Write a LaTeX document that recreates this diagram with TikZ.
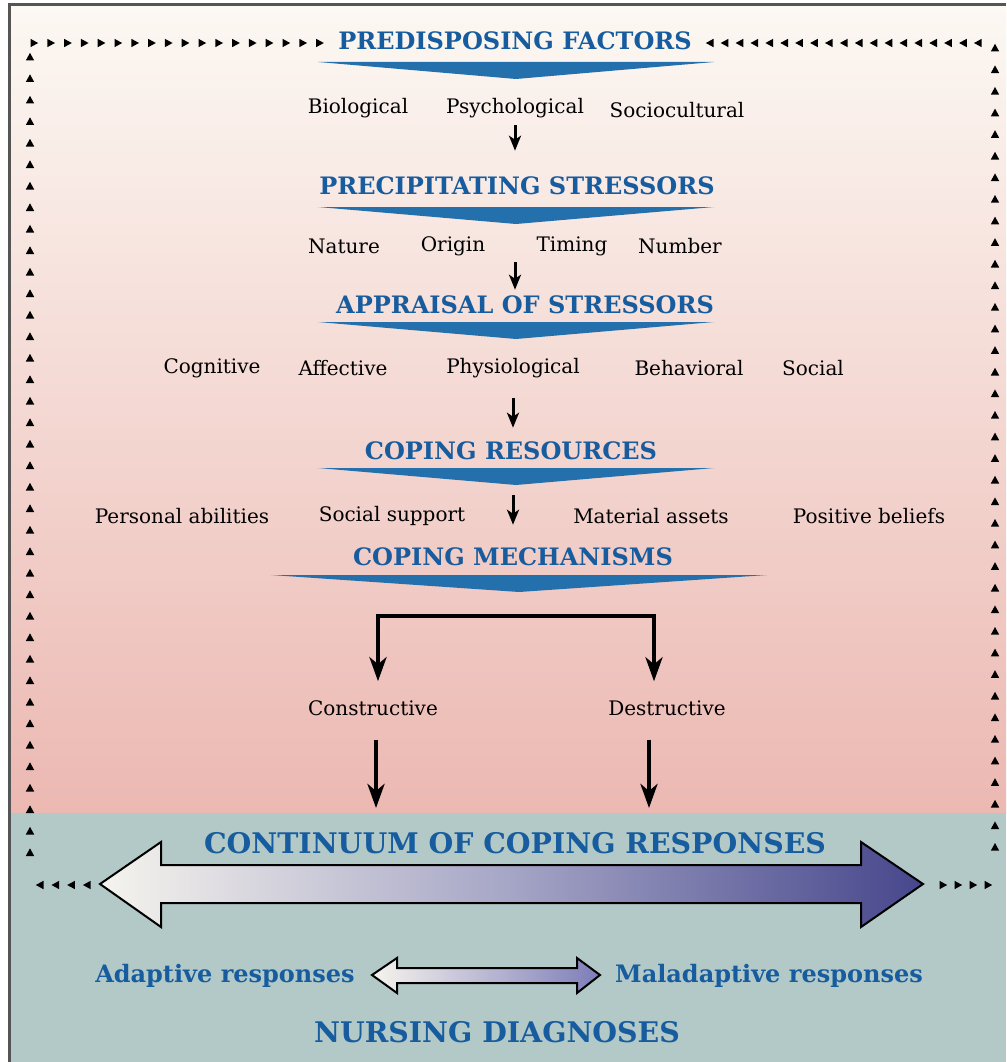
\documentclass[tikz,border=0pt]{standalone}
\usepackage{xcolor}
\usepackage{fontspec}
\setmainfont{DejaVu Serif}
\usetikzlibrary{arrows.meta, positioning, calc}
\definecolor{headblue}{RGB}{22, 92, 158}
\definecolor{bannerblue}{RGB}{36, 112, 172}
\definecolor{creamtop}{RGB}{252, 248, 243}
\definecolor{pinkbottom}{RGB}{236, 184, 178}
\definecolor{tealband}{RGB}{178, 201, 199}
\definecolor{framegray}{RGB}{85, 85, 85}
\definecolor{arrowlight}{RGB}{246, 244, 237}
\definecolor{arrowmid}{RGB}{165, 165, 198}
\definecolor{arrowdark}{RGB}{70, 70, 140}
\definecolor{scaledark}{RGB}{125, 125, 185}

\begin{document}
\begin{tikzpicture}[x=1pt, y=-1pt,
    heading/.style={text=headblue, inner sep=0pt,
                    font=\fontsize{24}{28}\selectfont\bfseries},
    bigheading/.style={heading, font=\fontsize{28.4}{32}\selectfont\bfseries},
    factor/.style={inner sep=0pt, font=\fontsize{20}{24}\selectfont},
    response/.style={text=headblue, inner sep=0pt,
                     font=\fontsize{24}{28}\selectfont\bfseries},
    flow/.style={line width=3pt, -{Stealth[length=15pt, width=12pt, inset=4pt]}},
    bigflow/.style={line width=4.5pt, -{Stealth[length=24pt, width=17pt, inset=7pt]}},
    forkarrow/.style={line width=4.5pt,
                      {Stealth[length=24pt, width=17pt, inset=7pt]}-{Stealth[length=24pt, width=17pt, inset=7pt]}},
    widearrow/.style={draw=black, line width=2pt, left color=arrowlight,
                      right color=arrowdark, middle color=arrowmid},
    pics/bordertip/.style={code={\fill (-3.5,-4.2) -- (4.2,0) -- (-3.5,4.2) -- cycle;}},
    pics/banner/.style={code={\fill[bannerblue] (-#1,0) -- (#1,0) -- (0,17) -- cycle;}}
]
    % background
    \useasboundingbox (0,0) rectangle (1006,1062);
    \fill[white] (0,0) rectangle (1006,1062);
    \shade[top color=creamtop, bottom color=pinkbottom] (9,5) rectangle (1006,813);
    \fill[tealband] (9,813) rectangle (1006,1062);
    \draw[framegray, line width=3pt] (9,1062) -- (9,5) -- (1006,5);
    \coordinate (bandtop) at (515,813);

    % feedback border of small tips
    \foreach \i in {0,...,17} \pic at (34+16.8*\i,43) {bordertip};
    \foreach \i in {0,...,18} \pic[rotate=180] at (710+14.9*\i,43) {bordertip};
    \foreach \i in {0,...,37} {
        \pic[rotate=90] at (30,57+21.5*\i) {bordertip};
        \pic[rotate=90] at (995,48+21.6*\i) {bordertip};
    }
    \foreach \i in {0,...,3} {
        \pic[rotate=180] at (40+15.7*\i,885) {bordertip};
        \pic at (943+15*\i,885) {bordertip};
    }

    % predisposing factors
    \node[heading] (predis) at (515,41) {PREDISPOSING FACTORS};
    \pic at (516,62) {banner=198};
    \node[factor] (bio) at (358,108) {Biological};
    \node[factor] (psych) at (515,108) {Psychological};
    \node[factor] (socio) at (677,110) {Sociocultural};

    % precipitating stressors
    \node[heading] (precip) at (517,186) {PRECIPITATING STRESSORS};
    \pic at (516,207) {banner=198};
    \node[factor] (nature) at (344,246) {Nature};
    \node[factor] (origin) at (453,246) {Origin};
    \node[factor] (timing) at (572,246) {Timing};
    \node[factor] (number) at (680,246) {Number};
    \draw[flow, shorten <=7pt, shorten >=26pt] (psych.south) -- (psych.south |- precip.north);

    % appraisal
    \node[heading] (apprais) at (525,305) {APPRAISAL OF STRESSORS};
    \pic at (516,322) {banner=198};
    \coordinate (gap2) at (515,262);
    \draw[flow, shorten >=6pt] (gap2) -- (gap2 |- apprais.north);
    \node[factor] (cogn) at (212,368) {Cognitive};
    \node[factor] (affect) at (343,368) {Affective};
    \node[factor] (physio) at (513,368) {Physiological};
    \node[factor] (behav) at (689,368) {Behavioral};
    \node[factor] (social) at (813,368) {Social};

    % coping resources
    \node[heading] (resour) at (511,451) {COPING RESOURCES};
    \pic at (516,468) {banner=198};
    \draw[flow, shorten <=20pt, shorten >=14pt] (physio.south) -- (physio.south |- resour.north);
    \node[factor] (personal) at (182,516) {Personal abilities};
    \node[factor] (support) at (392,516) {Social support};
    \node[factor] (material) at (651,516) {Material assets};
    \node[factor] (beliefs) at (869,516) {Positive beliefs};

    % coping mechanisms
    \node[heading] (mech) at (513,557) {COPING MECHANISMS};
    \pic at (519,575) {banner=248};
    \coordinate (gap4) at (513,495);
    \draw[flow, shorten >=23pt] (gap4) -- (gap4 |- mech.north);

    \node[factor] (constr) at (373,708) {Constructive};
    \node[factor] (destr) at (667,708) {Destructive};
    \coordinate (forkL) at (378,616);
    \coordinate (forkR) at (654,616);
    \draw[forkarrow, shorten <=19pt, shorten >=19pt]
        (forkL |- constr.north) -- (forkL) -- (forkR) -- (forkR |- destr.north);
    \draw[bigflow, shorten <=24pt, shorten >=5pt]
        ([xshift=3pt]constr.south) -- ([xshift=3pt]constr.south |- bandtop);
    \draw[bigflow, shorten <=24pt, shorten >=5pt]
        ([xshift=-18pt]destr.south) -- ([xshift=-18pt]destr.south |- bandtop);

    % continuum
    \node[bigheading] (contin) at (515,843) {CONTINUUM OF COPING RESPONSES};
    \draw[widearrow] (100,884) -- (161,842) -- (161,865) -- (861,865) -- (861,842)
        -- (923,884) -- (861,927) -- (861,903) -- (161,903) -- (161,927) -- cycle;

    \node[response] (adapt) at (225,976) {Adaptive responses};
    \node[response] (malad) at (769,976) {Maladaptive responses};
    \draw[widearrow, right color=scaledark] (372,975) -- (397,958) -- (397,968)
        -- (577,968) -- (577,958) -- (600,975) -- (577,993) -- (577,983)
        -- (397,983) -- (397,993) -- cycle;

    \node[bigheading] (nursing) at (497,1032) {NURSING DIAGNOSES};
\end{tikzpicture}
\end{document}
